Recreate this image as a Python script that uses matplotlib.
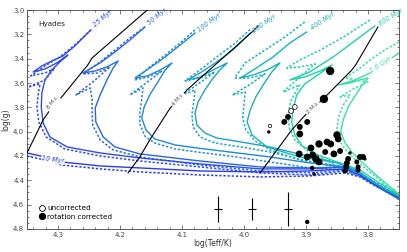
import numpy as np
import matplotlib.pyplot as plt
from matplotlib.lines import Line2D
from matplotlib.ticker import MultipleLocator

# --- isochrones (log Teff, log g), solid = standard, dashed = alternative ---
ages = ['10 Myr', '25 Myr', '50 Myr', '100 Myr', '200 Myr', '400 Myr', '800 Myr', '1.6 Gyr']
colors = ['#2b3bef', '#2f4cf0', '#2a64e6', '#2388d8', '#1aa2c8', '#16b2b8', '#22cfae', '#3ae0a0']

t10 = [4.350, 4.321, 4.294, 4.232, 4.168, 4.071, 3.974, 3.894, 3.837, 3.813, 3.794, 3.773, 3.750]
g10 = [4.175, 4.208, 4.249, 4.282, 4.298, 4.323, 4.331, 4.323, 4.306, 4.356, 4.421, 4.479, 4.545]
t10d = [4.350, 4.321, 4.294, 4.232, 4.168, 4.071, 3.974, 3.894, 3.837, 3.813, 3.794, 3.773, 3.750]
g10d = [4.200, 4.233, 4.274, 4.306, 4.331, 4.356, 4.372, 4.364, 4.339, 4.372, 4.430, 4.487, 4.553]

t25 = [4.247, 4.273, 4.292, 4.310, 4.326, 4.340, 4.321, 4.302, 4.284, 4.297, 4.310, 4.321, 4.326, 4.327,
       4.324, 4.313, 4.285, 4.232, 4.168, 4.071, 3.974, 3.894, 3.837, 3.813, 3.794, 3.773, 3.750]
g25 = [3.164, 3.296, 3.378, 3.419, 3.460, 3.509, 3.485, 3.435, 3.370, 3.427, 3.493, 3.575, 3.682, 3.797,
       3.929, 4.044, 4.126, 4.175, 4.216, 4.265, 4.306, 4.306, 4.290, 4.339, 4.405, 4.471, 4.537]
t25d = [4.247, 4.273, 4.297, 4.321, 4.344, 4.321, 4.305, 4.321, 4.348, 4.329, 4.332, 4.334, 4.331,
        4.319, 4.289, 4.232, 4.168, 4.071, 3.974, 3.894, 3.837, 3.813, 3.794, 3.773, 3.750]
g25d = [3.164, 3.288, 3.386, 3.460, 3.542, 3.518, 3.477, 3.575, 3.633, 3.608, 3.698, 3.797, 3.920,
        4.044, 4.142, 4.200, 4.241, 4.290, 4.339, 4.356, 4.323, 4.364, 4.421, 4.487, 4.553]

t50 = [4.160, 4.184, 4.208, 4.232, 4.260, 4.240, 4.221, 4.203, 4.211, 4.221, 4.232, 4.240, 4.239, 4.227,
       4.208, 4.168, 4.071, 3.974, 3.894, 3.837, 3.813, 3.794, 3.773, 3.750]
g50 = [3.140, 3.247, 3.345, 3.435, 3.518, 3.501, 3.468, 3.419, 3.477, 3.575, 3.698, 3.805, 3.920, 4.044,
       4.126, 4.183, 4.241, 4.290, 4.298, 4.290, 4.339, 4.405, 4.471, 4.537]
t50d = [4.160, 4.184, 4.208, 4.232, 4.260, 4.237, 4.216, 4.244, 4.271, 4.248, 4.245, 4.245, 4.244, 4.232,
        4.211, 4.168, 4.071, 3.974, 3.894, 3.837, 3.813, 3.794, 3.773, 3.750]
g50d = [3.140, 3.230, 3.329, 3.427, 3.526, 3.518, 3.468, 3.592, 3.698, 3.641, 3.740, 3.846, 3.945, 4.068,
        4.150, 4.208, 4.274, 4.323, 4.339, 4.315, 4.364, 4.421, 4.487, 4.553]

t100 = [4.079, 4.103, 4.127, 4.152, 4.176, 4.156, 4.135, 4.116, 4.127, 4.140, 4.152, 4.161, 4.165, 4.158,
        4.144, 4.111, 4.076, 4.023, 3.958, 3.894, 3.837, 3.813, 3.794, 3.773, 3.750]
g100 = [3.189, 3.288, 3.386, 3.477, 3.559, 3.542, 3.493, 3.435, 3.493, 3.600, 3.698, 3.797, 3.887, 3.986,
        4.060, 4.109, 4.134, 4.167, 4.208, 4.257, 4.290, 4.339, 4.405, 4.471, 4.537]
t100d = [4.079, 4.103, 4.127, 4.152, 4.176, 4.155, 4.132, 4.158, 4.184, 4.163, 4.165, 4.168, 4.168, 4.160,
         4.144, 4.111, 4.076, 4.023, 3.958, 3.894, 3.837, 3.813, 3.794, 3.773, 3.750]
g100d = [3.164, 3.271, 3.370, 3.468, 3.575, 3.551, 3.501, 3.600, 3.698, 3.641, 3.740, 3.838, 3.937, 4.035,
         4.093, 4.142, 4.167, 4.200, 4.249, 4.298, 4.315, 4.364, 4.421, 4.487, 4.553]

t200 = [3.990, 4.018, 4.044, 4.071, 4.092, 4.071, 4.050, 4.027, 4.039, 4.052, 4.063, 4.074, 4.079, 4.076,
        4.063, 4.044, 3.995, 3.958, 3.905, 3.850, 3.826, 3.810, 3.794, 3.773, 3.750]
g200 = [3.189, 3.329, 3.427, 3.518, 3.575, 3.551, 3.493, 3.435, 3.493, 3.575, 3.657, 3.756, 3.846, 3.945,
        4.011, 4.052, 4.093, 4.126, 4.191, 4.257, 4.306, 4.348, 4.405, 4.471, 4.528]
t200d = [3.990, 4.018, 4.044, 4.071, 4.095, 4.071, 4.047, 4.074, 4.100, 4.079, 4.081, 4.084, 4.082, 4.071,
         4.047, 3.995, 3.958, 3.905, 3.850, 3.826, 3.810, 3.794, 3.773, 3.750]
g200d = [3.160, 3.288, 3.386, 3.493, 3.583, 3.559, 3.509, 3.608, 3.698, 3.657, 3.756, 3.855, 3.961, 4.044,
         4.093, 4.134, 4.167, 4.233, 4.290, 4.331, 4.372, 4.421, 4.487, 4.553]

t400 = [3.899, 3.926, 3.953, 3.985, 4.006, 3.985, 3.963, 3.942, 3.955, 3.969, 3.981, 3.990, 3.995, 3.987,
        3.963, 3.910, 3.845, 3.821, 3.805, 3.789, 3.769, 3.750]
g400 = [3.181, 3.271, 3.386, 3.493, 3.559, 3.534, 3.493, 3.435, 3.509, 3.616, 3.715, 3.822, 3.920, 4.027,
        4.126, 4.208, 4.257, 4.306, 4.364, 4.421, 4.479, 4.528]
t400d = [3.902, 3.934, 3.966, 3.998, 4.015, 3.990, 3.966, 3.994, 4.019, 3.998, 4.000, 4.002, 3.997, 3.982,
         3.958, 3.910, 3.845, 3.821, 3.805, 3.789, 3.769, 3.750]
g400d = [3.099, 3.222, 3.329, 3.435, 3.559, 3.559, 3.526, 3.624, 3.698, 3.674, 3.781, 3.887, 3.986, 4.076,
         4.150, 4.233, 4.282, 4.323, 4.372, 4.430, 4.487, 4.545]

t800 = [3.789, 3.813, 3.856, 3.894, 3.926, 3.902, 3.877, 3.858, 3.881, 3.902, 3.915, 3.921, 3.923, 3.918,
        3.906, 3.885, 3.850, 3.813, 3.789, 3.768, 3.750]
g800 = [3.131, 3.222, 3.386, 3.509, 3.575, 3.551, 3.501, 3.452, 3.534, 3.608, 3.698, 3.822, 3.920, 4.027,
        4.117, 4.183, 4.249, 4.315, 4.397, 4.463, 4.520]
t800d = [3.797, 3.837, 3.877, 3.910, 3.931, 3.910, 3.885, 3.906, 3.937, 3.910, 3.924, 3.929, 3.927, 3.918,
         3.897, 3.850, 3.813, 3.789, 3.768, 3.750]
g800d = [3.082, 3.214, 3.329, 3.411, 3.477, 3.468, 3.444, 3.534, 3.674, 3.616, 3.740, 3.863, 3.970, 4.068,
         4.159, 4.282, 4.339, 4.413, 4.471, 4.528]

t16 = [3.750, 3.773, 3.797, 3.821, 3.848, 3.829, 3.813, 3.800, 3.810, 3.821, 3.832, 3.840, 3.844, 3.837,
       3.826, 3.810, 3.789, 3.768, 3.750]
g16 = [3.353, 3.435, 3.518, 3.575, 3.616, 3.600, 3.575, 3.559, 3.624, 3.707, 3.797, 3.904, 4.002, 4.093,
       4.167, 4.249, 4.348, 4.438, 4.512]
t16d = [3.750, 3.773, 3.792, 3.813, 3.837, 3.818, 3.800, 3.821, 3.845, 3.829, 3.840, 3.848, 3.850, 3.845,
        3.832, 3.813, 3.789, 3.768, 3.750]
g16d = [3.263, 3.329, 3.394, 3.477, 3.559, 3.575, 3.592, 3.641, 3.715, 3.698, 3.781, 3.887, 3.986, 4.085,
        4.175, 4.265, 4.364, 4.454, 4.520]

solid = [(t10, g10), (t25, g25), (t50, g50), (t100, g100), (t200, g200), (t400, g400), (t800, g800), (t16, g16)]
dashed = [(t10d, g10d), (t25d, g25d), (t50d, g50d), (t100d, g100d), (t200d, g200d), (t400d, g400d),
          (t800d, g800d), (t16d, g16d)]

# label anchors and angles for the isochrones
lab_t = [4.308, 4.242, 4.155, 4.074, 3.985, 3.892, 3.782, 3.779]
lab_g = [4.233, 3.131, 3.115, 3.173, 3.173, 3.156, 3.115, 3.452]
lab_rot = [-8, 40, 38, 36, 35, 33, 32, 33]

# --- mass tracks ---
tracks = ['8 M$_\\odot$', '4 M$_\\odot$', '2 M$_\\odot$']
tr8_t = [4.350, 4.324, 4.313, 4.294, 4.252, 4.245, 4.156]
tr8_g = [4.175, 3.904, 3.822, 3.715, 3.452, 3.394, 3.000]
tr4_t = [4.187, 4.168, 4.152, 4.119, 4.106, 4.092, 3.987, 3.977]
tr4_g = [4.339, 4.208, 4.068, 3.805, 3.740, 3.657, 3.181, 3.131]
tr2_t = [3.974, 3.923, 3.898, 3.889, 3.874, 3.826, 3.819, 3.784]
tr2_g = [4.339, 3.986, 3.846, 3.805, 3.740, 3.493, 3.444, 3.140]
trk_lab_t = [4.309, 4.106, 3.889]
trk_lab_g = [3.765, 3.740, 3.805]
trk_rot = [52, 50, 45]

# --- Hyades stars ---
star_t = [3.861, 3.871, 3.929, 3.935, 3.898, 3.910, 3.910, 3.960, 3.892, 3.879, 3.866, 3.860, 3.850,
          3.848, 3.911, 3.898, 3.889, 3.884, 3.879, 3.869, 3.855, 3.845, 3.829, 3.832, 3.834, 3.835,
          3.837, 3.818, 3.813, 3.808, 3.805, 3.816, 3.816, 3.890, 3.887, 3.898]
star_g = [3.501, 3.731, 3.879, 3.920, 3.920, 3.961, 4.019, 4.002, 4.134, 4.101, 4.085, 4.101, 4.027,
          4.060, 4.183, 4.208, 4.191, 4.224, 4.249, 4.167, 4.183, 4.159, 4.175, 4.224, 4.257, 4.290,
          4.323, 4.249, 4.208, 4.208, 4.224, 4.290, 4.315, 4.298, 4.348, 4.742]
star_s = [36, 36, 18, 18, 18, 18, 24, 6, 24, 28, 24, 24, 28, 24, 24, 24, 24, 28, 24, 18, 24, 18, 6,
          18, 18, 18, 13, 13, 18, 18, 6, 13, 13, 10, 6, 10]
unc_t = [3.924, 3.918, 3.958]
unc_g = [3.830, 3.797, 3.953]
unc_s = [12, 12, 6]

# typical errors
err_t = [4.042, 3.987, 3.929]
err_g = [4.635, 4.635, 4.635]
err_dt = [0.0065, 0.007, 0.007]
err_dg = [0.11, 0.09, 0.14]

fig = plt.figure(figsize=(4.07, 2.52), dpi=100)
ax = fig.add_axes([0.0663, 0.0913, 0.914, 0.869])

for (t, g), (td, gd), c in zip(solid, dashed, colors):
    ax.plot(td, gd, color=c, lw=1.1, dashes=(1.5, 1.2), zorder=2)
    ax.plot(t, g, color=c, lw=1.0, zorder=3)

for name, x, y, r, c in zip(ages, lab_t, lab_g, lab_rot, colors):
    if name in ('10 Myr', '1.6 Gyr'):
        ax.text(x, y, name, color=c, fontsize=4.8, style='italic', rotation=r,
                ha='center', va='center', rotation_mode='anchor', zorder=6,
                bbox=dict(facecolor='white', edgecolor='none', pad=0.3))
    else:
        ax.text(x, y, name, color=c, fontsize=4.8, style='italic', rotation=r,
                ha='left', va='center', rotation_mode='anchor', zorder=6)

for (t, g) in [(tr8_t, tr8_g), (tr4_t, tr4_g), (tr2_t, tr2_g)]:
    ax.plot(t, g, color='black', lw=0.8, zorder=4)
for name, x, y, r in zip(tracks, trk_lab_t, trk_lab_g, trk_rot):
    ax.text(x, y, name, color='#555555', fontsize=4.3, rotation=r, ha='center', va='center',
            rotation_mode='anchor', zorder=6,
            bbox=dict(facecolor='white', edgecolor='none', pad=0.2))

ax.scatter(star_t, star_g, s=star_s, color='black', lw=0, zorder=5)
ax.scatter(unc_t, unc_g, s=unc_s, facecolor='white', edgecolor='black', lw=0.5, zorder=5)

ax.errorbar(err_t, err_g, xerr=err_dt, yerr=err_dg, fmt='none', ecolor='black', elinewidth=0.8,
            capsize=0, zorder=5)

ax.text(0.03, 0.95, 'Hyades', transform=ax.transAxes, fontsize=5.2, color='#222222', va='top')

handles = [Line2D([], [], ls='none', marker='o', ms=4.2, mfc='white', mec='black', mew=0.6),
           Line2D([], [], ls='none', marker='o', ms=4.2, mfc='black', mec='black')]
ax.legend(handles, ['uncorrected', 'rotation corrected'], loc='lower left', bbox_to_anchor=(0.02, 0.03),
          frameon=False, fontsize=5.2, handletextpad=0.2, labelspacing=0.3, borderaxespad=0,
          handlelength=1.2)

ax.set_xlim(4.35, 3.75)
ax.set_ylim(4.8, 3.0)
ax.xaxis.set_major_locator(MultipleLocator(0.1))
ax.xaxis.set_minor_locator(MultipleLocator(0.02))
ax.yaxis.set_major_locator(MultipleLocator(0.2))
ax.yaxis.set_minor_locator(MultipleLocator(0.05))
ax.xaxis.set_major_formatter(plt.FormatStrFormatter('%.1f'))
ax.yaxis.set_major_formatter(plt.FormatStrFormatter('%.1f'))
ax.tick_params(which='both', direction='in', top=True, right=True, labelsize=5, colors='#444444',
               width=0.5, pad=2)
ax.tick_params(which='major', length=3)
ax.tick_params(which='minor', length=1.5)
for s in ax.spines.values():
    s.set_linewidth(0.6)
    s.set_color('#444444')
ax.set_xlabel('log(Teff/K)', fontsize=5.5, color='#333333', labelpad=1)
ax.set_ylabel('log(g)', fontsize=5.5, color='#333333', labelpad=2)

fig.savefig('out.png', dpi=100)
